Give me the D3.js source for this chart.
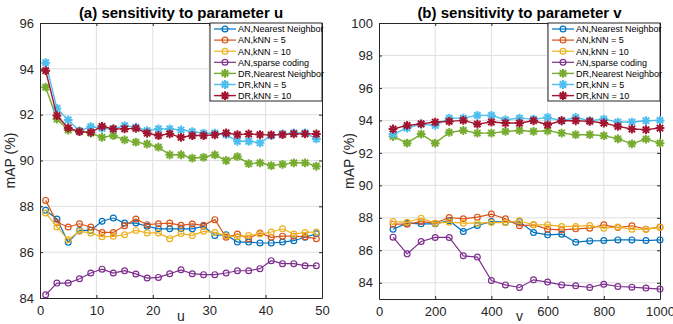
<!DOCTYPE html>
<html><head><meta charset="utf-8">
<script src="https://cdn.jsdelivr.net/npm/d3@7"></script>
<style>body{margin:0;background:#fff}svg{display:block;font-family:"Liberation Sans",Arial,sans-serif}</style>
</head><body><svg id="c" width="673" height="324"></svg>
<script>
const seriesNames = ["AN,Nearest Neighbor","AN,kNN = 5","AN,kNN = 10","AN,sparse coding","DR,Nearest Neighbor","DR,kNN = 5","DR,kNN = 10"];
const seriesColors = ["#0072BD","#D95319","#EDB120","#7E2F8E","#77AC30","#4DBEEE","#A2142F"];
const seriesMarkers = ["o","o","o","o","*","*","*"];

// (a) parameter u
const uValues = [1,3,5,7,9,11,13,15,17,19,21,23,25,27,29,31,33,35,37,39,41,43,45,47,49];
const u_AN_NN   = [87.83,87.45,86.43,86.95,86.95,87.35,87.49,87.27,87.27,87.13,87.02,87.02,87.02,87.02,87.13,86.73,86.76,86.44,86.44,86.40,86.40,86.44,86.50,86.65,86.80];
const u_AN_k5   = [88.26,87.30,87.10,87.24,87.10,86.86,86.86,87.15,87.45,87.20,87.24,87.27,87.17,87.23,87.17,87.42,86.65,86.79,86.59,86.84,86.65,86.70,86.70,86.67,86.59];
const u_AN_k10  = [87.71,87.10,86.54,86.91,86.84,86.67,86.69,86.76,86.95,86.84,86.84,86.59,86.81,86.73,86.91,86.86,86.72,86.67,86.73,86.79,86.88,87.02,86.79,86.86,86.88];
const u_AN_SC   = [84.14,84.65,84.65,84.84,85.09,85.26,85.09,85.19,85.05,84.87,84.90,85.06,85.23,85.06,85.02,85.02,85.09,85.19,85.19,85.28,85.63,85.50,85.50,85.41,85.41];
const u_DR_NN   = [93.20,91.81,91.33,91.28,91.20,91.01,91.09,90.90,90.80,90.72,90.58,90.25,90.25,90.10,90.14,90.25,90.00,90.17,89.86,89.90,89.78,89.83,89.90,89.90,89.75];
const u_DR_k5   = [94.27,92.27,91.77,91.28,91.48,91.40,91.38,91.52,91.45,91.30,91.38,91.38,91.33,91.26,91.19,91.19,91.13,90.84,90.84,90.77,91.09,91.16,91.20,91.20,90.94];
const u_DR_k10  = [93.92,91.96,91.42,91.26,91.23,91.49,91.38,91.38,91.40,91.19,91.09,91.16,91.01,91.09,91.09,91.12,91.20,91.13,91.16,91.13,91.12,91.13,91.16,91.16,91.16];

// (b) parameter v
const vValues = [50,100,150,200,250,300,350,400,450,500,550,600,650,700,750,800,850,900,950,1000];
const v_AN_NN   = [87.30,87.67,87.63,87.63,87.82,87.16,87.53,87.77,87.73,87.77,87.10,86.95,86.99,86.50,86.58,86.60,86.64,86.64,86.60,86.64];
const v_AN_k5   = [87.61,87.61,87.77,87.67,88.02,87.94,88.04,88.23,87.94,87.51,87.57,87.30,87.26,87.32,87.36,87.57,87.40,87.51,87.30,87.43];
const v_AN_k10  = [87.77,87.73,87.98,87.67,87.73,87.67,87.67,87.71,87.71,87.82,87.57,87.57,87.47,87.47,87.53,87.36,87.43,87.30,87.30,87.41];
const v_AN_SC   = [86.81,85.78,86.54,86.79,86.79,85.66,85.58,84.14,83.87,83.71,84.18,84.04,83.87,83.81,83.71,83.91,83.77,83.73,83.67,83.61];
const v_DR_NN   = [93.01,92.60,93.16,92.60,93.26,93.38,93.22,93.22,93.32,93.38,93.32,93.36,93.22,93.12,93.12,93.06,92.87,92.56,92.85,92.60];
const v_DR_k5   = [93.16,93.53,93.77,93.69,94.14,94.14,94.31,94.31,94.04,94.14,94.08,94.18,93.98,94.18,93.98,94.08,93.90,93.90,93.98,94.00];
const v_DR_k10  = [93.47,93.69,93.79,93.90,93.94,94.00,93.77,93.90,93.84,93.84,93.98,93.73,93.98,93.98,93.94,93.84,93.63,93.47,93.43,93.53];

const uTicks = [0,10,20,30,40,50];
const vTicks = [0,200,400,600,800,1000];
const uYTicks = [84,86,88,90,92,94,96];
const vYTicks = [84,86,88,90,92,94,96,98,100];

const panels = [
  {title:"(a) sensitivity to parameter u", xlabel:"u", x:uValues, xDomain:[0,50], yDomain:[84,96], xTicks:uTicks, yTicks:uYTicks,
   series:[u_AN_NN,u_AN_k5,u_AN_k10,u_AN_SC,u_DR_NN,u_DR_k5,u_DR_k10], left:40, right:322, top:23, bottom:298},
  {title:"(b) sensitivity to parameter v", xlabel:"v", x:vValues, xDomain:[0,1000], yDomain:[83,100], xTicks:vTicks, yTicks:vYTicks,
   series:[v_AN_NN,v_AN_k5,v_AN_k10,v_AN_SC,v_DR_NN,v_DR_k5,v_DR_k10], left:379, right:660, top:23, bottom:299}
];

const svg = d3.select("#c");
const axisCol = "#262626";
const gridCol = "#dfdfdf";

function starPath(s){
  const d = s*0.72;
  return `M${-s},0L${s},0M0,${-s}L0,${s}M${-d},${-d}L${d},${d}M${-d},${d}L${d},${-d}`;
}
function drawMarker(g, type, color, x, y){
  if(type==="o"){
    g.append("circle").attr("cx",x).attr("cy",y).attr("r",2.9).attr("fill","none").attr("stroke",color).attr("stroke-width",1.2);
  } else {
    g.append("path").attr("d",starPath(4.4)).attr("transform",`translate(${x},${y})`).attr("fill","none").attr("stroke",color).attr("stroke-width",2);
  }
}

panels.forEach(p=>{
  const xs = d3.scaleLinear().domain(p.xDomain).range([p.left,p.right]);
  const ys = d3.scaleLinear().domain(p.yDomain).range([p.bottom,p.top]);
  const g = svg.append("g");

  // grid
  g.append("g").selectAll("line").data(p.xTicks.slice(1,-1)).join("line")
    .attr("x1",d=>xs(d)).attr("x2",d=>xs(d)).attr("y1",p.top).attr("y2",p.bottom).attr("stroke",gridCol).attr("stroke-width",1);
  g.append("g").selectAll("line").data(p.yTicks.filter(d=>d>p.yDomain[0]&&d<p.yDomain[1])).join("line")
    .attr("x1",p.left).attr("x2",p.right).attr("y1",d=>ys(d)).attr("y2",d=>ys(d)).attr("stroke",gridCol).attr("stroke-width",1);

  // axes
  const fmt = d3.format("d");
  const xAxis = d3.axisBottom(xs).tickValues(p.xTicks).tickFormat(fmt).tickSizeInner(-3).tickSizeOuter(0).tickPadding(8);
  const yAxis = d3.axisLeft(ys).tickValues(p.yTicks).tickFormat(fmt).tickSizeInner(-3).tickSizeOuter(0).tickPadding(6);
  const xa = g.append("g").attr("transform",`translate(0,${p.bottom})`).call(xAxis);
  const ya = g.append("g").attr("transform",`translate(${p.left},0)`).call(yAxis);
  const xt = g.append("g").attr("transform",`translate(0,${p.top})`).call(d3.axisTop(xs).tickValues(p.xTicks).tickSizeInner(-3).tickSizeOuter(0).tickFormat(""));
  const yr = g.append("g").attr("transform",`translate(${p.right},0)`).call(d3.axisRight(ys).tickValues(p.yTicks).tickSizeInner(-3).tickSizeOuter(0).tickFormat(""));
  [xa,ya,xt,yr].forEach(a=>{
    a.selectAll("path.domain").attr("stroke",axisCol).attr("stroke-width",1);
    a.selectAll(".tick line").attr("stroke",axisCol);
    a.selectAll("text").attr("fill",axisCol).style("font-size","13px").style("font-family","'Liberation Sans',Arial,sans-serif");
  });

  // series
  [0,1,2,3,4,5,6].forEach(i=>{
    const data = p.series[i].map((v,j)=>[p.x[j],v]);
    const line = d3.line().x(d=>xs(d[0])).y(d=>ys(d[1]));
    const sg = g.append("g");
    sg.append("path").attr("d",line(data)).attr("fill","none").attr("stroke",seriesColors[i]).attr("stroke-width",i>=4?1.4:1.2);
    data.forEach(d=>drawMarker(sg, seriesMarkers[i], seriesColors[i], xs(d[0]), ys(d[1])));
  });

  // title
  g.append("text").attr("x",(p.left+p.right)/2).attr("y",18).attr("text-anchor","middle")
    .style("font-size","15px").style("font-weight","bold").attr("fill","#000").text(p.title);
  // x label
  g.append("text").attr("x",(p.left+p.right)/2).attr("y",321).attr("text-anchor","middle")
    .style("font-size","14px").attr("fill",axisCol).text(p.xlabel);
  // y label
  g.append("text").attr("transform",`translate(${p.left-25},${(p.top+p.bottom)/2}) rotate(-90)`).attr("text-anchor","middle")
    .style("font-size","14px").attr("fill",axisCol).text("mAP (%)");

  // legend
  const lw = 112, lh = 78;
  const ly = p.top;
  const lg = g.append("g");
  lg.append("rect").attr("x",p.right-lw).attr("y",ly).attr("width",lw).attr("height",lh).attr("fill","#fff").attr("stroke",axisCol).attr("stroke-width",1);
  seriesNames.forEach((name,i)=>{
    const yy = ly + 6 + i*11.1;
    const x0 = p.right-lw+4, x1 = x0+22;
    lg.append("line").attr("x1",x0).attr("x2",x1).attr("y1",yy).attr("y2",yy).attr("stroke",seriesColors[i]).attr("stroke-width",i>=4?1.4:1.2);
    drawMarker(lg, seriesMarkers[i], seriesColors[i], (x0+x1)/2, yy);
    lg.append("text").attr("x",x1+2).attr("y",yy+3.3).style("font-size","9px").attr("fill","#000").text(name);
  });
});
</script></body></html>
